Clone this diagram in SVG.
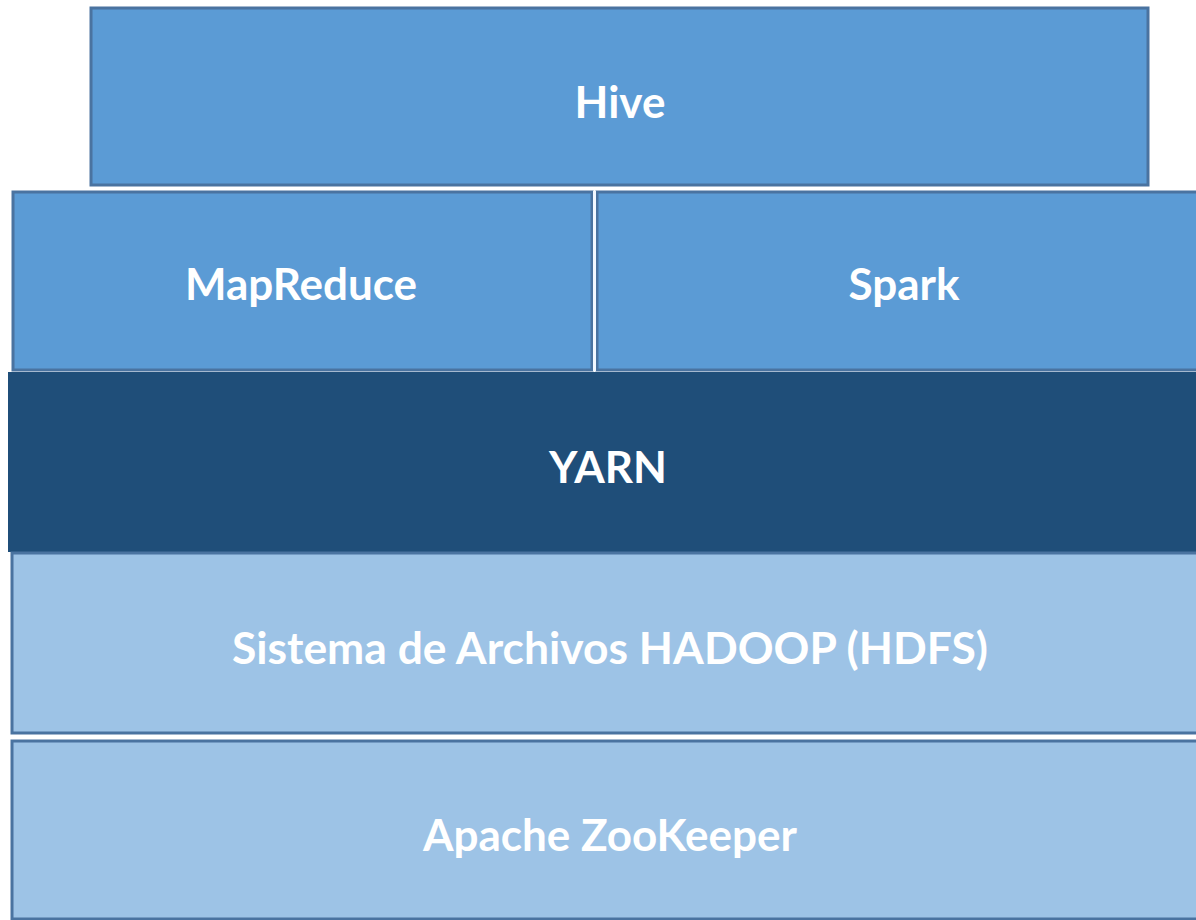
<svg xmlns="http://www.w3.org/2000/svg" width="1196" height="920" viewBox="0 0 1196 920">
<style>
.b{stroke:#4a73a0;stroke-width:3}
.mid{fill:#5b9bd5}
.dark{fill:#1f4e79}
.light{fill:#9dc3e6}
text{font-family:Lato,"Open Sans","Liberation Sans",sans-serif;font-weight:bold;font-size:44px;fill:#ffffff;text-anchor:middle}
</style>
<rect width="1196" height="920" fill="#ffffff"/>
<g id="hive"><rect class="b mid" x="91" y="8" width="1057" height="177"/><text x="620" y="118">Hive</text></g>
<g id="mapreduce"><rect class="b mid" x="13" y="192" width="579" height="178"/><text x="301" y="300">MapReduce</text></g>
<g id="spark"><rect class="b mid" x="597" y="192" width="602" height="178"/><text x="904" y="300">Spark</text></g>
<line x1="594.5" y1="191" x2="594.5" y2="371" stroke="#f2f8ff" stroke-width="3"/>
<g id="yarn"><rect class="dark" x="8" y="372" width="1190" height="180"/><text x="608" y="483">YARN</text></g>
<g id="hdfs"><rect class="b light" x="12" y="553" width="1186" height="180"/><text x="610" y="664" textLength="756" lengthAdjust="spacingAndGlyphs">Sistema de Archivos HADOOP (HDFS)</text></g>
<g id="zookeeper"><rect class="b light" x="12" y="741" width="1186" height="178"/><text x="610" y="851">Apache ZooKeeper</text></g>
<g id="connectors"></g>
</svg>
